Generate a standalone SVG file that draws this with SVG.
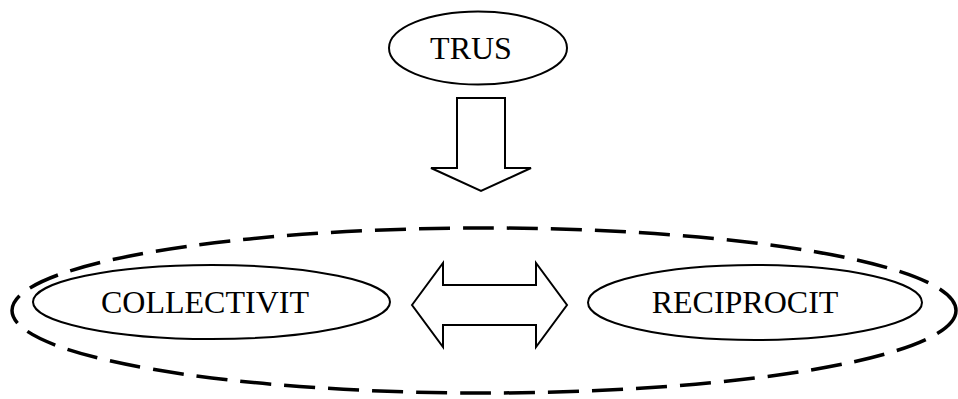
<svg xmlns="http://www.w3.org/2000/svg" width="958" height="399" viewBox="0 0 958 399">
<style>
.node{fill:#fff;stroke:#000;stroke-width:2}
.arrow{fill:#fff;stroke:#000;stroke-width:2;stroke-linejoin:miter}
.group{fill:none;stroke:#000;stroke-width:3.5;stroke-dasharray:31 13}
.lbl{font-family:"Liberation Serif","Times New Roman",serif;font-size:32px;fill:#000;text-anchor:middle}
</style>
<rect width="958" height="399" fill="#fff"/>
<g id="group-boundary">
<ellipse class="group" cx="484" cy="310.5" rx="472" ry="82.5"/>
</g>
<g id="node-trus">
<ellipse class="node" cx="478" cy="48" rx="89" ry="36.5"/>
<text class="lbl" x="471" y="59">TRUS</text>
</g>
<g id="node-collectivit">
<ellipse class="node" cx="211.5" cy="302" rx="178.5" ry="37"/>
<text class="lbl" x="205" y="313">COLLECTIVIT</text>
</g>
<g id="node-reciprocit">
<ellipse class="node" cx="755" cy="302.5" rx="167" ry="37.5"/>
<text class="lbl" x="745" y="313">RECIPROCIT</text>
</g>
<g id="connectors">
<polygon class="arrow" points="457,98 505,98 505,168 531,168 481,191 431,168 457,168"/>
<polygon class="arrow" points="412,305 443,263 443,285 536,285 536,263 567,305 536,347 536,325 443,325 443,347"/>
</g>
</svg>
